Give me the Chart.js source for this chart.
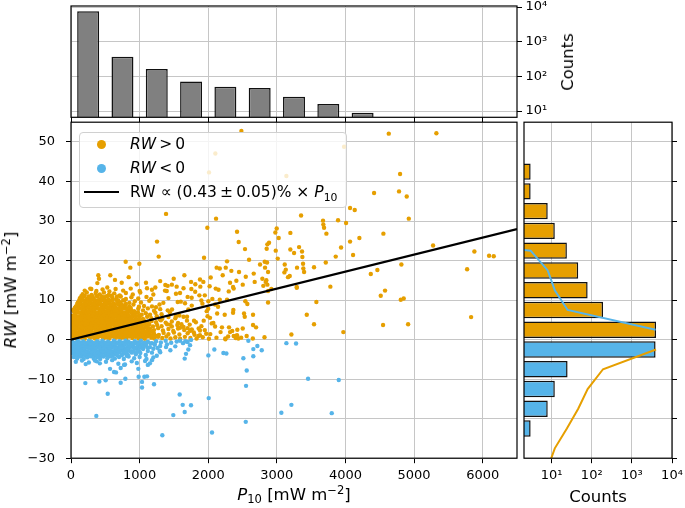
<!DOCTYPE html>
<html>
<head>
<meta charset="utf-8">
<script src="https://cdn.jsdelivr.net/npm/chart.js@4.4.1/dist/chart.umd.min.js"></script>
<style>
  body { margin: 0; background: #fff; }
  #wrap { position: relative; width: 685px; height: 508px; font-family: 'DejaVu Sans', sans-serif; color: #000; }
  canvas { position: absolute; left: 0; top: 0; }
  .lbl { position: absolute; white-space: nowrap; font-size: 16.5px; line-height: 20px; }
  .lbl sup, .lbl sub { font-size: 70%; line-height: 0; position: relative; vertical-align: baseline; }
  .lbl sup { top: -0.55em; }
  .lbl sub { top: 0.3em; }
  .rot { transform: translate(-50%, -50%) rotate(-90deg); }
  .ctr { transform: translate(-50%, -50%); }
  #legend { position: absolute; left: 79px; top: 131.5px; width: 266px; height: 74px; border: 1px solid #d0d0d0;
            border-radius: 4px; background: rgba(255,255,255,0.8); }
  .dot { position: absolute; width: 9px; height: 9px; border-radius: 50%; }
  .leg { position: absolute; font-size: 15.5px; line-height: 20px; white-space: nowrap; }
  .leg sub { font-size: 70%; line-height: 0; position: relative; vertical-align: baseline; top: 0.3em; }
</style>
</head>
<body>
<div id="wrap">
  <canvas id="top" width="685" height="508"></canvas>
  <canvas id="side" width="685" height="508"></canvas>
  <canvas id="main" width="685" height="508"></canvas>

  <div id="legend"></div>
  <div class="dot" style="left:97px; top:139.8px; background:#E69F00;"></div>
  <div class="leg" style="left:130px; top:134.3px;"><i>RW</i>&#8201;&gt;&#8201;0</div>
  <div class="dot" style="left:97px; top:163.8px; background:#56B4E9;"></div>
  <div class="leg" style="left:130px; top:158.3px;"><i>RW</i>&#8201;&lt;&#8201;0</div>
  <div style="position:absolute; left:84px; top:191.3px; width:35px; height:2px; background:#000;"></div>
  <div class="leg" style="left:130px; top:182.3px;">RW &#8733; (0.43&#8201;&#177;&#8201;0.05)% &#215; <i>P</i><sub>10</sub></div>

  <div class="lbl rot" style="left:11px; top:290px;"><i>RW</i> [mW m<sup>&#8722;2</sup>]</div>
  <div class="lbl ctr" style="left:294px; top:495px;"><i>P</i><sub>10</sub> [mW m<sup>&#8722;2</sup>]</div>
  <div class="lbl ctr" style="left:598px; top:497px;">Counts</div>
  <div class="lbl rot" style="left:568px; top:62px;">Counts</div>
</div>
<script>
// ---- data ----

// top histogram of P10 (bins of 500 mW m^-2)
const p10Centers = [250, 750, 1250, 1750, 2250, 2750, 3250, 3750, 4250];
const p10Counts = [7600, 367, 163, 71, 50, 46, 26, 16, 9];

// side histogram of RW (bins of 5 mW m^-2)
const rwPosCenters = [2.5, 7.5, 12.5, 17.5, 22.5, 27.5, 32.5, 37.5, 42.5];
const rwPosCounts = [4000, 191, 79, 46, 24, 12, 8, 3, 3];
const rwNegCenters = [-2.5, -7.5, -12.5, -17.5, -22.5];
const rwNegCounts = [3900, 25, 12, 8, 3];

// mirrored outlines drawn over the side histogram
const negLineRW = [2.5, 7.5, 12.5, 17.5, 22.5, 27.5];
const negLineCounts = [3900, 25, 12, 8, 3, 0.0001];
const posLineRW = [-2.5, -7.5, -12.5, -17.5, -22.5, -27.5, -32.5, -37.5];
const posLineCounts = [4000, 191, 79, 46, 24, 12, 8, 3];

// linear fit RW = 0.43% * P10
const fitP10 = [0, 6500];
const fitRW = [0, 27.95];

// tick values and labels
const p10Ticks = [0, 1000, 2000, 3000, 4000, 5000, 6000];
const rwTicks = [-30, -20, -10, 0, 10, 20, 30, 40, 50];
const countTicks = [10, 100, 1000, 10000];
const logLabels = {10: '10\u00b9', 100: '10\u00b2', 1000: '10\u00b3', 10000: '10\u2074'};

// scatter: [P10, RW] with RW > 0
const rwPos = [
  [10,0.4],[45,0.7],[80,0.3],[120,0.8],[160,0.5],[200,0.2],[235,0.9],[275,0.4],[315,0.7],[350,0.3],[390,0.6],[430,0.9],
  [470,0.3],[510,0.6],[555,0.2],[595,0.8],[640,0.4],[680,0.7],[720,0.3],[765,0.6],[805,0.2],[850,0.8],[895,0.4],[940,0.7],
  [985,0.3],[1030,0.6],[1075,0.2],[1120,0.8],[1170,0.5],[1215,0.3],[1270,0.7],[1330,0.4],[1390,0.8],[1450,0.3],[1520,0.6],
  [1590,0.2],[1660,0.7],[1740,0.4],[1830,0.3],[1920,0.6],[2010,0.2],[2120,0.5],[2250,0.3],[2400,0.4],[2480,0.5],[2560,0.9],
  [2650,0.3],[2820,0.6],
  [30,1.0],[75,0.9],[115,1.1],[155,1.0],[195,0.9],[240,1.1],[280,1.0],[320,0.9],[365,1.1],[405,1.0],[445,0.9],[490,1.1],
  [530,1.0],[575,0.9],[615,1.1],[655,1.0],[700,0.9],[740,1.1],[785,1.0],[825,0.9],[870,1.1],[915,1.0],[960,0.9],[1005,1.1],
  [1050,1.0],[1095,0.9],[1140,1.1],[1190,1.0],[1240,0.9],
  [25,1.5],[65,1.2],[100,1.8],[140,1.4],[185,1.9],[220,1.3],[260,1.7],[300,1.2],[340,1.6],[375,2.0],[415,1.4],[455,1.8],
  [495,1.2],[540,1.6],[580,1.9],[620,1.3],[665,1.7],[705,1.2],[750,1.5],[790,1.9],[835,1.3],[880,1.6],[925,1.2],[970,1.8],
  [1015,1.4],[1060,1.7],[1110,1.3],[1160,1.9],[1210,1.5],[1280,1.2],[1350,1.7],[1420,1.4],[1500,1.8],[1580,1.3],[1700,1.6],
  [1800,1.2],[1970,1.5],[2030,1.4],[2180,1.9],[2290,0.8],[2350,2.2],[2420,1.1],
  [5,2.0],[40,2.1],[80,1.9],[120,2.0],[160,2.1],[200,1.9],[240,2.0],[280,2.1],[320,1.9],[360,2.0],[400,2.1],[440,1.9],
  [480,2.0],[520,2.1],[560,1.9],[600,2.0],[645,2.1],[685,1.9],[725,2.0],[770,2.1],[810,1.9],[855,2.0],[900,2.1],[945,1.9],
  [990,2.0],[1035,2.1],[1085,1.9],[1135,2.0],[1185,2.1],
  [15,2.6],[50,2.3],[90,2.9],[130,2.4],[170,2.8],[210,2.2],[250,2.7],[290,2.3],[330,2.9],[370,2.5],[410,2.2],[450,2.8],
  [490,2.4],[530,2.9],[575,2.3],[615,2.7],[660,2.2],[700,2.8],[745,2.4],[785,2.9],[830,2.5],[875,2.2],[920,2.7],[960,2.3],
  [1010,2.9],[1055,2.5],[1105,2.2],[1150,2.8],[1210,2.4],[1270,2.9],[1340,2.3],[1420,2.7],[1490,2.2],[1560,2.8],[1650,2.4],
  [1760,2.6],[1880,2.3],[1735,2.2],[1861,2.8],[1589,3.0],
  [35,3.0],[75,3.1],[115,2.9],[155,3.0],[195,3.1],[235,2.9],[275,3.0],[315,3.1],[355,2.9],[395,3.0],[435,3.1],[475,2.9],
  [515,3.0],[555,3.1],[595,2.9],[635,3.0],[675,3.1],[715,2.9],[760,3.0],[800,3.1],[845,2.9],[890,3.0],[935,3.1],[980,2.9],
  [1030,3.0],[1080,3.1],[1130,2.9],
  [30,3.5],[70,3.2],[110,3.8],[150,3.3],[190,3.9],[230,3.4],[270,3.2],[310,3.7],[355,3.3],[395,3.9],[435,3.5],[475,3.2],
  [520,3.8],[560,3.4],[600,3.9],[645,3.3],[690,3.7],[730,3.2],[775,3.8],[815,3.4],[860,3.9],[905,3.3],[950,3.6],[995,3.2],
  [1045,3.8],[1095,3.4],[1140,3.9],[1195,3.3],[1255,3.7],[1320,3.4],[1400,3.9],[1470,3.3],[1550,3.7],[1640,3.2],[1730,3.8],
  [1443,3.8],[2100,3.3],[2200,3.1],
  [5,4.0],[45,4.1],[90,3.9],[130,4.0],[170,4.1],[210,3.9],[250,4.0],[290,4.1],[330,3.9],[370,4.0],[410,4.1],[455,3.9],
  [495,4.0],[540,4.1],[580,3.9],[625,4.0],[665,4.1],[710,3.9],[750,4.0],[795,4.1],[840,3.9],[885,4.0],[930,4.1],[975,3.9],
  [1025,4.0],[1075,4.1],
  [10,4.5],[50,4.8],[85,4.3],[125,4.9],[165,4.4],[205,4.7],[245,4.2],[285,4.8],[325,4.4],[365,4.9],[405,4.3],[445,4.7],
  [490,4.2],[530,4.8],[570,4.4],[615,4.9],[655,4.3],[700,4.7],[740,4.2],[785,4.8],[830,4.5],[870,4.9],[915,4.3],[960,4.7],
  [1005,4.4],[1060,4.9],[1115,4.3],[1175,4.7],[1240,4.4],[1310,4.9],[1380,4.3],[1470,4.6],[1560,4.2],[1690,4.8],[1934,4.8],
  [1793,4.8],[2075,4.2],[2050,4.1],
  [20,5.0],[65,5.1],[110,4.9],[150,5.0],[190,5.1],[230,4.9],[270,5.0],[310,5.1],[350,4.9],[390,5.0],[430,5.1],[470,4.9],
  [510,5.0],[550,5.1],[590,4.9],[635,5.0],[675,5.1],[720,4.9],[760,5.0],[805,5.1],[850,4.9],[895,5.0],[940,5.1],[990,4.9],
  [1040,5.0],
  [40,5.4],[95,5.8],[140,5.3],[180,5.9],[225,5.5],[265,5.2],[305,5.8],[345,5.4],[390,5.9],[430,5.3],[470,5.7],[515,5.2],
  [555,5.8],[600,5.4],[640,5.9],[685,5.3],[725,5.7],[770,5.2],[815,5.8],[860,5.4],[900,5.9],[950,5.3],[1000,5.7],[1050,5.2],
  [1110,5.8],[1170,5.4],[1250,5.9],[1330,5.3],[1420,5.7],[1520,5.4],[1640,5.8],[1297,5.1],[1531,5.9],[1691,5.8],[2026,5.5],
  [1990,5.9],
  [20,6.0],[70,6.1],[120,5.9],[160,6.0],[200,6.1],[245,5.9],[285,6.0],[325,6.1],[370,5.9],[410,6.0],[450,6.1],[495,5.9],
  [535,6.0],[580,6.1],[620,5.9],[665,6.0],[710,6.1],[750,5.9],[795,6.0],[840,6.1],[890,5.9],[940,6.0],[990,6.1],
  [60,6.5],[110,6.9],[155,6.3],[195,6.8],[240,6.4],[280,6.9],[320,6.2],[360,6.7],[405,6.3],[445,6.9],[485,6.4],[530,6.8],
  [575,6.2],[615,6.7],[660,6.4],[705,6.9],[745,6.3],[790,6.7],[835,6.2],[880,6.8],[925,6.4],[975,6.9],[1030,6.3],[1090,6.7],
  [1152,6.3],[1230,6.8],[1320,6.4],[1440,6.9],[1580,6.1],[2130,6.6],
  [45,7.0],[95,7.1],[140,6.9],[180,7.0],[220,7.1],[265,6.9],[305,7.0],[345,7.1],[390,6.9],[430,7.0],[475,7.1],[515,6.9],
  [560,7.0],[600,7.1],[645,6.9],[690,7.0],[735,7.1],[780,6.9],[830,7.0],[880,7.1],[935,6.9],
  [30,7.5],[85,7.3],[130,7.9],[175,7.4],[215,7.8],[255,7.2],[300,7.7],[340,7.3],[385,7.9],[425,7.4],[470,7.8],[510,7.2],
  [555,7.6],[600,7.9],[640,7.3],[685,7.8],[730,7.4],[775,7.9],[820,7.3],[870,7.7],[920,7.2],[980,7.8],[1050,7.4],[1120,7.9],
  [1210,7.3],[1300,7.7],[1410,7.4],[1472,7.6],[1710,7.6],[1978,7.2],[2000,7.8],
  [55,8.0],[105,8.1],[150,7.9],[195,8.0],[235,8.1],[275,7.9],[320,8.0],[360,8.1],[400,7.9],[445,8.0],[490,8.1],[530,7.9],
  [575,8.0],[620,8.1],[665,7.9],[710,8.0],[760,8.1],[815,7.9],[870,8.0],
  [70,8.4],[120,8.8],[165,8.3],[205,8.9],[250,8.5],[290,8.2],[335,8.8],[375,8.4],[420,8.9],[460,8.3],[505,8.7],[550,8.2],
  [590,8.8],[640,8.4],[690,8.9],[740,8.3],[790,8.7],[850,8.4],[910,8.9],[990,8.3],[1064,8.5],[1180,8.4],[1239,8.2],[1290,8.9],
  [1760,8.6],[2100,8.9],
  [90,9.0],[135,9.1],[180,8.9],[225,9.0],[265,9.1],[310,8.9],[350,9.0],[395,9.1],[440,8.9],[485,9.0],[530,9.1],[580,8.9],
  [630,9.0],[680,9.1],[740,8.9],[800,9.0],
  [100,9.4],[150,9.8],[195,9.3],[240,9.9],[285,9.5],[330,9.2],[375,9.8],[420,9.4],[470,9.9],[520,9.3],[565,9.7],[615,9.2],
  [670,9.8],[720,9.4],[780,9.9],[850,9.3],[930,9.7],[1020,9.4],[1140,9.8],[1346,9.3],[1555,9.5],[1662,9.2],[1915,9.1],
  [2002,9.7],[1600,9.6],[1900,9.9],
  [120,10.0],[165,10.1],[210,9.9],[255,10.0],[305,10.1],[350,9.9],[400,10.0],[450,10.1],[500,9.9],[555,10.0],[610,10.1],
  [690,9.9],[760,10.0],
  [130,10.5],[185,10.9],[230,10.3],[280,10.8],[330,10.4],[385,10.9],[430,10.3],[490,10.7],[545,10.2],[600,10.8],[660,10.4],
  [725,10.9],[800,10.3],[880,10.7],[980,10.4],[1100,10.8],[1166,10.3],[1759,10.6],[1420,10.5],[1700,10.8],[2060,10.3],
  [150,11.0],[200,11.1],[260,10.9],[310,11.0],[370,11.1],[450,10.9],[520,11.0],[590,11.1],[670,10.9],
  [170,11.5],[230,11.9],[300,11.3],[360,11.8],[420,11.4],[480,11.9],[550,11.3],[630,11.7],[710,11.2],[800,11.8],[900,11.4],
  [1010,11.9],[1200,11.4],[1589,11.8],[1871,11.2],[1530,11.6],[1950,11.2],
  [200,12.4],[280,12.9],[370,12.3],[460,12.7],[560,12.2],[650,12.8],[760,12.4],[870,12.9],[1000,12.3],[1180,12.6],[1395,12.3],
  [1370,12.4],[1640,13.0],[2020,13.5],[2150,12.6],[1810,12.1],
  [398,16.3],[408,15.4],[384,14.3],[573,16.3],[641,15.1],[841,15.8],[739,14.4],[529,13.2],[296,12.8],[957,14.0],[1093,14.4],
  [1108,13.0],[1229,13.2],[1375,13.8],[1409,13.6],[1540,13.4],[1497,15.4],[1652,16.3],[1754,12.8],[1812,14.0],[1885,13.4],
  [1929,14.6],[2036,15.7],[2109,12.9],[1470,13.9],[1750,14.6],[1880,15.2],[1300,14.8],
  [2104,47.1],[2012,42.3],[1385,31.8],[2114,30.6],[1987,28.3],[1254,24.8],[1278,21.0],[1939,20.7],[797,19.7],[996,19.2],
  [865,18.2],[2123,18.2],
  [2483,52.8],[3980,48.8],[3139,41.4],[4067,33.3],[4135,32.8],[3353,31.4],[3673,30.1],[3892,30.2],[4009,29.5],[3678,29.1],
  [3688,28.3],[3722,26.8],[2998,28.1],[2420,27.3],[2978,27.1],[3197,27.0],[3027,25.7],[2444,24.7],[2886,24.5],[2862,24.1],
  [2852,23.0],[2536,22.9],[3324,23.4],[3197,22.8],[3251,21.9],[3367,22.3],[3372,20.9],[4067,24.8],[4203,25.7],[3936,23.3],
  [4111,21.4],[3858,21.0],[2984,22.5],[3013,20.5],[2595,20.2],[2274,19.8],[2823,19.7],[2857,19.5],[2755,19.0],[3115,19.0],
  [3382,19.2],[3713,19.5],[2828,18.2],[2872,17.1],[3130,17.7],[3110,17.0],[3294,18.2],[3386,18.0],[3542,18.3],[3188,16.1],
  [3163,15.8],[3397,17.1],[2663,16.7],[2547,15.9],[2789,15.4],[2677,14.6],[2847,15.0],[2862,13.9],[2803,13.6],[2838,14.6],
  [3290,13.3],[3780,13.4],[2168,18.0],[2255,18.2],[2211,16.3],[2337,17.4],[2449,17.1],[2318,14.4],[2362,13.3],[2503,13.9],
  [2410,14.9],
  [4631,52.1],[5325,52.2],[4796,41.9],[4417,37.1],[4781,37.5],[4893,36.2],[4923,30.6],[4553,26.8],[5277,23.8],[5879,22.3],
  [6093,21.2],[6161,21.1],[4815,19.0],[4465,17.6],[4369,16.6],[5773,17.8],[4577,12.4],[4514,11.1],[4806,10.1],[4849,10.4],
  [5831,5.7],[4548,3.7],[4913,3.9],
  [2371,12.9],[2299,12.2],[2920,12.8],[2872,12.3],[3290,13.1],[2168,10.1],[2274,10.1],[2541,9.7],[2570,9.0],[2872,9.4],
  [3576,9.5],[2143,8.3],[2366,7.5],[2362,6.8],[2522,6.6],[2532,5.8],[2240,6.3],[2653,6.3],[3436,6.3],[3542,3.9],[3969,1.9],
  [2653,3.7],[2697,3.1],[2303,3.1],[2318,1.9],[2424,2.5],[2503,2.8],[2371,0.9],[2401,0.9],[2439,0.3],[3212,1.3],[2250,0.1],
  [1856,0.9],[1790,1.8],[1880,1.1],[1950,2.4],[1610,3.9],[1700,2.9],[1820,4.4],[1900,3.4]
];

// scatter: [P10, RW] with RW < 0
const rwNeg = [
  [20,-0.5],[60,-0.8],[100,-0.3],[140,-0.7],[180,-0.4],[220,-0.9],[260,-0.3],[300,-0.6],[340,-0.9],[380,-0.4],[420,-0.7],
  [460,-0.3],[500,-0.8],[540,-0.5],[585,-0.9],[625,-0.3],[665,-0.7],[710,-0.4],[750,-0.8],[795,-0.3],[840,-0.6],[885,-0.9],
  [930,-0.4],[975,-0.7],[1020,-0.3],[1070,-0.8],[1120,-0.5],[1180,-0.9],[1240,-0.4],[1310,-0.7],[1380,-0.3],[1460,-0.8],
  [1540,-0.5],[1589,-0.3],[1633,-0.9],[1666,-0.4],[1749,-0.1],[1700,-0.6],
  [5,-1.0],[40,-1.1],[80,-0.9],[120,-1.0],[160,-1.1],[200,-0.9],[240,-1.0],[280,-1.1],[320,-0.9],[360,-1.0],[400,-1.1],
  [440,-0.9],[480,-1.0],[520,-1.1],[560,-0.9],[600,-1.0],[640,-1.1],[685,-0.9],[725,-1.0],[770,-1.1],[815,-0.9],[860,-1.0],
  [905,-1.1],[950,-0.9],[1000,-1.0],[1050,-1.1],[1100,-0.9],[1160,-1.0],[1220,-1.1],
  [10,-1.5],[50,-1.2],[90,-1.8],[130,-1.3],[170,-1.9],[210,-1.4],[250,-1.7],[290,-1.2],[330,-1.8],[370,-1.4],[410,-1.9],
  [450,-1.3],[495,-1.7],[535,-1.2],[575,-1.8],[620,-1.4],[660,-1.9],[705,-1.3],[745,-1.7],[790,-1.2],[835,-1.8],[880,-1.4],
  [925,-1.9],[975,-1.3],[1030,-1.7],[1090,-1.4],[1150,-1.9],[1220,-1.3],[1260,-2.1],[1300,-1.6],[1385,-1.9],[1400,-1.2],
  [1520,-1.7],[1735,-1.4],
  [30,-2.0],[70,-2.1],[110,-1.9],[150,-2.0],[190,-2.1],[230,-1.9],[270,-2.0],[310,-2.1],[350,-1.9],[390,-2.0],[430,-2.1],
  [470,-1.9],[515,-2.0],[555,-2.1],[595,-1.9],[640,-2.0],[680,-2.1],[725,-1.9],[770,-2.0],[815,-2.1],[860,-1.9],[905,-2.0],
  [955,-2.1],[1005,-1.9],[1060,-2.0],[1120,-2.1],
  [30,-2.5],[70,-2.9],[110,-2.3],[150,-2.8],[195,-2.4],[235,-2.9],[275,-2.2],[315,-2.7],[355,-2.3],[400,-2.9],[440,-2.5],
  [480,-2.2],[525,-2.8],[565,-2.4],[610,-2.9],[650,-2.3],[695,-2.7],[740,-2.2],[785,-2.8],[830,-2.4],[880,-2.9],[930,-2.3],
  [990,-2.7],[1050,-2.4],[1120,-2.9],[1200,-2.3],[1290,-2.8],[1448,-2.7],[1710,-2.5],
  [5,-3.0],[45,-3.1],[85,-2.9],[125,-3.0],[165,-3.1],[205,-2.9],[245,-3.0],[290,-3.1],[330,-2.9],[370,-3.0],[410,-3.1],
  [450,-2.9],[495,-3.0],[540,-3.1],[580,-2.9],[625,-3.0],[670,-3.1],[715,-2.9],[760,-3.0],[805,-3.1],[855,-2.9],[910,-3.0],
  [965,-3.1],
  [15,-3.4],[55,-3.8],[95,-3.3],[140,-3.9],[180,-3.5],[220,-3.2],[265,-3.7],[305,-3.3],[345,-3.9],[390,-3.4],[430,-3.8],
  [470,-3.2],[515,-3.7],[560,-3.3],[600,-3.9],[645,-3.5],[690,-3.2],[735,-3.8],[780,-3.4],[830,-3.9],[885,-3.3],[945,-3.7],
  [1010,-3.4],[1090,-3.9],[1180,-3.3],[1300,-3.2],[1676,-3.6],
  [110,-4.0],[160,-4.1],[205,-3.9],[250,-4.0],[300,-4.1],[350,-3.9],[400,-4.0],[450,-4.1],[500,-3.9],[550,-4.0],[610,-4.1],
  [670,-3.9],[740,-4.0],[810,-4.1],
  [68,-4.0],[40,-4.4],[90,-4.8],[135,-4.3],[185,-4.9],[235,-4.5],[280,-4.2],[330,-4.8],[380,-4.4],[425,-4.9],[475,-4.3],
  [530,-4.7],[580,-4.2],[640,-4.8],[700,-4.4],[770,-4.9],[840,-4.3],[920,-4.7],[1000,-4.4],[1100,-4.9],[1200,-4.5],
  [1250,-4.1],[1657,-4.8],
  [70,-5.6],[160,-5.3],[214,-6.2],[260,-5.8],[350,-5.3],[374,-5.5],[420,-6.0],[510,-5.6],[600,-5.2],[690,-6.1],[787,-6.3],
  [885,-5.5],[960,-5.9],[1080,-5.4],[1150,-6.0],[1180,-5.2],[1120,-6.4],
  [569,-7.4],[656,-8.3],[724,-7.2],[627,-8.2],[773,-6.4],[981,-7.4],[986,-9.4],[1069,-9.4],
  [2089,-2.5],[2002,-4.0],
  [209,-11.0],[413,-10.6],[505,-10.3],[724,-10.9],[792,-9.9],[1035,-10.7],[1035,-12.1],[1108,-9.3],[1210,-11.3],[535,-13.7],
  [369,-19.3],[1584,-13.9],[1628,-16.5],[1749,-16.6],[1657,-18.3],[1491,-19.1],[2007,-14.8],[2055,-23.5],[1331,-24.2],
  [2585,-0.3],[3139,-0.9],[3280,-1.0],[2716,-1.6],[2657,-2.4],[2780,-2.7],[2221,-3.4],[2265,-3.5],[2512,-4.7],[2657,-4.2],
  [2561,-7.8],[2551,-11.7],[3455,-9.9],[3902,-10.2],[3212,-16.5],[3066,-18.5],[3800,-18.6],[2547,-20.8]
];

// ---- styling ----
const ORANGE = '#E69F00';
const BLUE = '#56B4E9';
const GRID = '#c6c6c6';
const TICK_FONT = { family: 'DejaVu Sans', size: 13 };

Chart.defaults.font.family = 'DejaVu Sans';
Chart.defaults.color = '#000';

// black box around each plot area
const frame = {
  id: 'frame',
  afterDraw(chart) {
    const { ctx, chartArea: a } = chart;
    ctx.save();
    ctx.strokeStyle = '#000';
    ctx.lineWidth = 1.2;
    ctx.strokeRect(a.left, a.top, a.right - a.left, a.bottom - a.top);
    ctx.restore();
  }
};

const fixedTicks = list => s => { s.ticks = list.map(v => ({ value: v })); };
// fix the axis box size and stop tick labels from pushing the plot area around
const boxSize = (w, h) => s => {
  if (w !== null) s.width = w;
  if (h !== null) s.height = h;
  s.paddingLeft = s.paddingRight = s.paddingTop = s.paddingBottom = 0;
};
const minus = v => (v < 0 ? '\u2212' + Math.abs(v) : String(v));
const noPlugins = { legend: { display: false }, tooltip: { enabled: false } };

// main scatter
new Chart(document.getElementById('main'), {
  type: 'scatter',
  data: {
    datasets: [
      {
        type: 'line', order: 1,
        data: fitP10.map((x, i) => ({ x: x, y: fitRW[i] })),
        borderColor: '#000', borderWidth: 2.2, pointRadius: 0
      },
      {
        order: 2,
        data: rwNeg.map(p => ({ x: p[0], y: p[1] })),
        backgroundColor: BLUE, borderWidth: 0, pointRadius: 2.2
      },
      {
        order: 3,
        data: rwPos.map(p => ({ x: p[0], y: p[1] })),
        backgroundColor: ORANGE, borderWidth: 0, pointRadius: 2.2
      }
    ]
  },
  options: {
    responsive: false, animation: false, events: [],
    layout: { padding: { left: 0, top: 122.2, right: 168, bottom: 0 } },
    plugins: noPlugins,
    scales: {
      x: {
        type: 'linear', min: 0, max: 6500,
        afterBuildTicks: fixedTicks(p10Ticks),
        afterFit: boxSize(null, 49.8),
        ticks: { autoSkip: false, maxRotation: 0, padding: 5, font: TICK_FONT, callback: v => String(v) },
        grid: { color: GRID, tickColor: '#000', tickLength: 5, lineWidth: 1 },
        border: { display: false }
      },
      y: {
        type: 'linear', min: -30, max: 55,
        afterBuildTicks: fixedTicks(rwTicks),
        afterFit: boxSize(71, null),
        ticks: { padding: 11, font: TICK_FONT, callback: v => minus(v) },
        grid: { color: GRID, tickColor: '#000', tickLength: 5, lineWidth: 1 },
        border: { display: false }
      }
    }
  },
  plugins: [frame]
});

// top histogram
new Chart(document.getElementById('top'), {
  type: 'bar',
  data: {
    datasets: [{
      data: p10Centers.map((x, i) => ({ x: x, y: p10Counts[i] })),
      backgroundColor: '#808080', borderColor: '#111', borderWidth: 1.5,
      barPercentage: 0.64, categoryPercentage: 1
    }]
  },
  options: {
    responsive: false, animation: false, events: [],
    layout: { padding: { left: 71, top: 6, right: 0, bottom: 0 } },
    plugins: noPlugins,
    scales: {
      x: {
        type: 'linear', min: 0, max: 6500, offset: false,
        afterBuildTicks: fixedTicks(p10Ticks),
        afterFit: boxSize(null, 508 - 117.3),
        ticks: { display: false },
        grid: { color: GRID, tickColor: '#000', tickLength: 5, offset: false },
        border: { display: false }
      },
      y: {
        type: 'logarithmic', position: 'right', min: 6.6, max: 10700,
        afterBuildTicks: fixedTicks(countTicks),
        afterFit: boxSize(168, null),
        ticks: { padding: 3.5, font: TICK_FONT, callback: v => logLabels[v] || '' },
        grid: { color: GRID, tickColor: '#000', tickLength: 5 },
        border: { display: false }
      }
    }
  },
  plugins: [frame]
});

// side histogram
new Chart(document.getElementById('side'), {
  type: 'bar',
  data: {
    datasets: [
      {
        type: 'line', order: 0,
        data: negLineCounts.map((c, i) => ({ x: c, y: negLineRW[i] })),
        borderColor: BLUE, borderWidth: 2, pointRadius: 0
      },
      {
        type: 'line', order: 0,
        data: posLineCounts.map((c, i) => ({ x: c, y: posLineRW[i] })),
        borderColor: ORANGE, borderWidth: 2, pointRadius: 0
      },
      {
        order: 1, grouped: false,
        data: rwPosCounts.map((c, i) => ({ x: c, y: rwPosCenters[i] })),
        backgroundColor: ORANGE, borderColor: '#111', borderWidth: 1.5,
        barPercentage: 0.83, categoryPercentage: 1
      },
      {
        order: 1, grouped: false,
        data: rwNegCounts.map((c, i) => ({ x: c, y: rwNegCenters[i] })),
        backgroundColor: BLUE, borderColor: '#111', borderWidth: 1.5,
        barPercentage: 0.83, categoryPercentage: 1
      }
    ]
  },
  options: {
    indexAxis: 'y',
    responsive: false, animation: false, events: [],
    layout: { padding: { left: 524, top: 122.2, right: 0, bottom: 0 } },
    plugins: noPlugins,
    scales: {
      x: {
        type: 'logarithmic', min: 2.05, max: 10000,
        afterBuildTicks: fixedTicks(countTicks),
        afterFit: boxSize(null, 49.8),
        ticks: { padding: 5, font: TICK_FONT, autoSkip: false, maxRotation: 0, callback: v => logLabels[v] || '' },
        grid: { color: GRID, tickColor: '#000', tickLength: 5 },
        border: { display: false }
      },
      y: {
        type: 'linear', position: 'right', min: -30, max: 55, offset: false,
        afterBuildTicks: fixedTicks(rwTicks),
        afterFit: boxSize(13, null),
        ticks: { display: false },
        grid: { color: GRID, tickColor: '#000', tickLength: 5, offset: false },
        border: { display: false }
      }
    }
  },
  plugins: [frame]
});
</script>
</body>
</html>
